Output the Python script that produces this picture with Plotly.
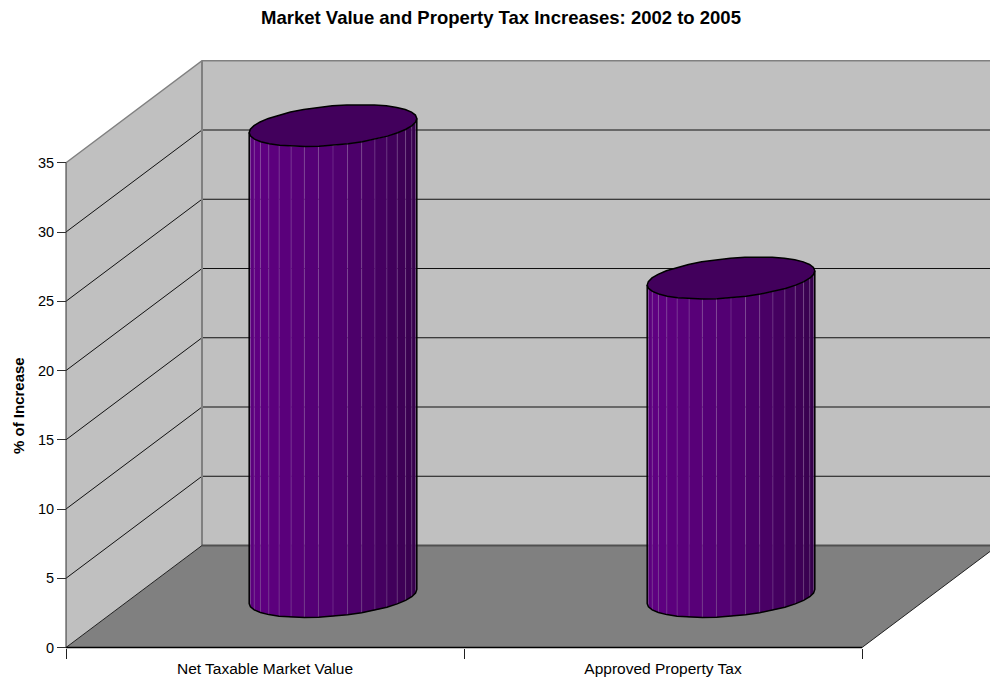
import math
import plotly.graph_objects as go

# ---- data ----
categories = ["Net Taxable Market Value", "Approved Property Tax"]
increase_pct = [34, 23]
value_ticks = [0, 5, 10, 15, 20, 25, 30, 35]
chart_title = "Market Value and Property Tax Increases: 2002 to 2005"
value_title = "% of Increase"

# ---- oblique projection geometry ----
W, H = 990, 679
X0_PX, CAT_PX = 66, 398          # first category edge, px per category
Y0_PX, UNIT_PX = 647.5, 13.85    # value 0, px per value unit
DEPTH_X_PX, DEPTH_Y_PX = 136, 102
DX = DEPTH_X_PX / CAT_PX
DY = DEPTH_Y_PX / UNIT_PX
TOP = value_ticks[-1]
N = len(categories)
CYL_A = 79 / CAT_PX
CYL_B = 0.206
FACETS = 36


def proj(u, v, d):
    return u + d * DX, v + d * DY


def poly(pts, fill=None, line=None, width=1, xaxis="x"):
    xs = [p[0] for p in pts]
    ys = [p[1] for p in pts]
    return go.Scatter(
        x=xs, y=ys, mode="lines", xaxis=xaxis,
        fill="toself" if fill else None, fillcolor=fill,
        line=dict(color=line or "rgba(0,0,0,0)", width=width if line else 0),
        hoverinfo="skip", showlegend=False,
    )


traces = []
# back wall
traces.append(poly([proj(0, 0, 1), proj(N, 0, 1), proj(N, TOP, 1), proj(0, TOP, 1), proj(0, 0, 1)], fill="#c0c0c0"))
# side wall
traces.append(poly([proj(0, 0, 0), proj(0, 0, 1), proj(0, TOP, 1), proj(0, TOP, 0), proj(0, 0, 0)], fill="#c0c0c0"))
# gridlines
for v in value_ticks[1:-1]:
    traces.append(poly([proj(0, v, 0), proj(0, v, 1), proj(N, v, 1)], line="#101010", width=1))
# floor
traces.append(poly([proj(0, 0, 0), proj(N, 0, 0), proj(N, 0, 1), proj(0, 0, 1), proj(0, 0, 0)], fill="#808080"))
# wall edges
traces.append(poly([proj(0, TOP, 0), proj(0, TOP, 1), proj(N, TOP, 1)], line="#808080", width=1.5))
traces.append(poly([proj(0, 0, 1), proj(0, TOP, 1)], line="#808080", width=2))
traces.append(poly([proj(0, 0, 1), proj(N, 0, 1)], line="#505050", width=2))
traces.append(poly([proj(N, 0, 0), proj(N, 0, 1)], line="#202020", width=1))
traces.append(poly([proj(0, 0, 0), proj(0, 0, 1)], line="#202020", width=1))


def ring(center, v, t):
    x, y = proj(center + CYL_A * math.cos(t), v, 0.5 + CYL_B * math.sin(t))
    return x, y


def shade(f):
    # f: 0 at the left silhouette, 1 at the right one
    stops = [(0.0, (88, 0, 122)), (0.15, (96, 0, 130)), (0.5, (82, 0, 114)), (0.8, (62, 0, 86)), (1.0, (50, 0, 70))]
    for (a, ca), (b, cb) in zip(stops, stops[1:]):
        if f <= b:
            k = (f - a) / (b - a)
            c = [round(ca[i] + (cb[i] - ca[i]) * k) for i in range(3)]
            return f"rgb({c[0]},{c[1]},{c[2]})"
    return "rgb(50,0,70)"


for i, val in enumerate(increase_pct):
    center = i + 0.5
    # the visible front side runs from the left silhouette, under the cylinder, to the right one
    t_sil = math.atan2(CYL_B * DX, CYL_A)
    t_start = math.pi + t_sil
    t_end = 2 * math.pi + t_sil
    steps = FACETS // 2
    angles = [t_start + (t_end - t_start) * k / steps for k in range(steps + 1)]
    for k in range(steps):
        a, b = angles[k], angles[k + 1]
        traces.append(poly([ring(center, 0, a), ring(center, 0, b), ring(center, val, b), ring(center, val, a), ring(center, 0, a)],
                           fill=shade((k + 0.5) / steps)))
    for a in angles[1:-1]:
        traces.append(poly([ring(center, 0, a), ring(center, val, a)], line="rgba(170,130,190,0.3)", width=1))
    # outline of the body
    body = [ring(center, val, t_start)] + [ring(center, 0, a) for a in angles] + [ring(center, val, t_end)]
    traces.append(poly(body, line="#000000", width=1.5))
    # top cap
    cap = [ring(center, val, 2 * math.pi * k / FACETS) for k in range(FACETS + 1)]
    traces.append(poly(cap, fill="#42005c", line="#000000", width=1.5))

# front axis lines with category tick marks, on the overlaid axis
traces.append(poly([proj(0, 0, 0), proj(N, 0, 0)], line="#000000", width=1.5, xaxis="x2"))
traces.append(poly([proj(0, 0, 0), proj(0, TOP, 0)], line="#303030", width=1, xaxis="x2"))

x_range = [-X0_PX / CAT_PX, (W - X0_PX) / CAT_PX]
y_range = [(Y0_PX - H) / UNIT_PX, Y0_PX / UNIT_PX]
axis_pos_x = X0_PX / W
axis_pos_y = (H - Y0_PX) / H
FONT = "Liberation Sans, Arial, sans-serif"

fig = go.Figure(traces)
fig.update_layout(
    width=W, height=H,
    margin=dict(l=0, r=0, t=0, b=0),
    autosize=False,
    paper_bgcolor="#ffffff", plot_bgcolor="#ffffff",
    showlegend=False, hovermode=False,
    title=dict(text=chart_title, x=501 / W, xanchor="center", y=1 - 18 / H, yanchor="middle",
               font=dict(family=FONT, size=18.5, color="#000000", weight="bold")),
    xaxis=dict(range=x_range, domain=[0, 1], anchor="free", position=axis_pos_y,
               tickmode="array", tickvals=[i + 0.5 for i in range(N)], ticktext=categories,
               ticks="outside", ticklen=7, tickcolor="rgba(0,0,0,0)",
               tickfont=dict(family=FONT, size=15.5, color="#000000"),
               showgrid=False, zeroline=False, showline=False, fixedrange=True),
    xaxis2=dict(range=x_range, overlaying="x", anchor="free", position=axis_pos_y,
                tickmode="array", tickvals=list(range(N + 1)), showticklabels=False,
                ticks="outside", ticklen=10, tickcolor="#202020", tickwidth=1,
                showgrid=False, zeroline=False, showline=False, fixedrange=True),
    yaxis=dict(range=y_range, domain=[0, 1], anchor="free", position=axis_pos_x,
               tickmode="array", tickvals=value_ticks, ticks="outside", ticklen=9,
               tickcolor="#303030", tickwidth=1,
               tickfont=dict(family=FONT, size=14.5, color="#000000"),
               showgrid=False, zeroline=False, showline=False, fixedrange=True),
    annotations=[dict(text=f"<b>{value_title}</b>", xref="paper", yref="paper",
                      x=18 / W, y=1 - 406 / H, xanchor="center", yanchor="middle",
                      showarrow=False, textangle=-90,
                      font=dict(family=FONT, size=15, color="#000000"))],
)
fig.write_html("out.html", config=dict(displayModeBar=False),
               post_script="document.body.style.margin='0';document.body.style.overflow='hidden';")
